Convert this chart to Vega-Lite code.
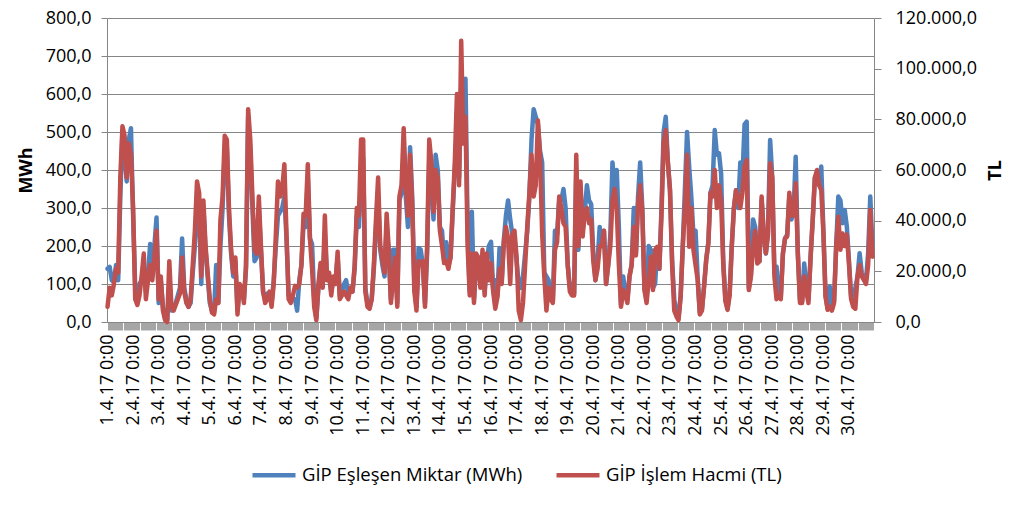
{
"$schema": "https://vega.github.io/schema/vega-lite/v6.json",
"width": 767, "height": 304,
"autosize": {"type": "none"},
"padding": {"left": 107, "top": 18, "right": 145, "bottom": 183},
"background": "white",
"config": {
 "locale": {"number": {"decimal": ",", "thousands": ".", "grouping": [3], "currency": ["", ""]}},
 "view": {"stroke": null},
 "font": "Open Sans",
 "axis": {"labelFont": "Open Sans", "labelColor": "#000", "titleFont": "Open Sans", "titleColor": "#000", "domainColor": "#868686", "tickColor": "#868686", "gridColor": "#868686"}
},
"data": {"values": [
{"h":0,"m":140,"t":6000},{"h":2,"m":145,"t":13500},{"h":4,"m":110,"t":10500},{"h":6,"m":105,"t":15000},{"h":8,"m":150,"t":21000},{"h":10,"m":110,"t":19500},{"h":12,"m":330,"t":57000},{"h":14,"m":500,"t":77250},{"h":16,"m":440,"t":73500},{"h":18,"m":370,"t":57000},{"h":20,"m":480,"t":70500},{"h":22,"m":510,"t":66000},
{"h":24,"m":280,"t":45000},{"h":26,"m":90,"t":9000},{"h":28,"m":60,"t":6750},{"h":30,"m":100,"t":10500},{"h":32,"m":110,"t":18000},{"h":34,"m":150,"t":27000},{"h":36,"m":80,"t":9000},{"h":38,"m":120,"t":16500},{"h":40,"m":205,"t":22500},{"h":42,"m":120,"t":16500},{"h":44,"m":200,"t":25500},{"h":46,"m":275,"t":36000},
{"h":48,"m":50,"t":9000},{"h":50,"m":110,"t":18000},{"h":52,"m":40,"t":4500},{"h":54,"m":10,"t":750},{"h":56,"m":5,"t":0},{"h":58,"m":100,"t":24000},{"h":60,"m":30,"t":6000},{"h":62,"m":40,"t":4500},{"h":64,"m":50,"t":6750},{"h":66,"m":70,"t":9000},{"h":68,"m":90,"t":11250},{"h":70,"m":220,"t":25500},
{"h":72,"m":90,"t":12000},{"h":74,"m":60,"t":7500},{"h":76,"m":40,"t":6000},{"h":78,"m":50,"t":9000},{"h":80,"m":130,"t":22500},{"h":82,"m":200,"t":36000},{"h":84,"m":300,"t":55500},{"h":86,"m":310,"t":51000},{"h":88,"m":100,"t":18000},{"h":90,"m":300,"t":48000},{"h":92,"m":190,"t":30000},{"h":94,"m":120,"t":19500},
{"h":96,"m":50,"t":9000},{"h":98,"m":30,"t":3750},{"h":100,"m":25,"t":3000},{"h":102,"m":150,"t":9000},{"h":104,"m":50,"t":7500},{"h":106,"m":200,"t":40500},{"h":108,"m":300,"t":49500},{"h":110,"m":450,"t":73500},{"h":112,"m":460,"t":72000},{"h":114,"m":280,"t":45000},{"h":116,"m":180,"t":28500},{"h":118,"m":120,"t":19500},
{"h":120,"m":160,"t":25500},{"h":122,"m":30,"t":3000},{"h":124,"m":90,"t":15000},{"h":126,"m":90,"t":13500},{"h":128,"m":60,"t":7500},{"h":130,"m":140,"t":22500},{"h":132,"m":540,"t":84000},{"h":134,"m":450,"t":72000},{"h":136,"m":300,"t":49500},{"h":138,"m":160,"t":28500},{"h":140,"m":170,"t":27000},{"h":142,"m":300,"t":49500},
{"h":144,"m":190,"t":30000},{"h":146,"m":80,"t":12000},{"h":148,"m":60,"t":7500},{"h":150,"m":75,"t":9000},{"h":152,"m":70,"t":12000},{"h":154,"m":50,"t":6000},{"h":156,"m":110,"t":15000},{"h":158,"m":200,"t":34500},{"h":160,"m":280,"t":55500},{"h":162,"m":290,"t":49500},{"h":164,"m":300,"t":52500},{"h":166,"m":330,"t":62250},
{"h":168,"m":220,"t":34500},{"h":170,"m":70,"t":9000},{"h":172,"m":60,"t":7500},{"h":174,"m":60,"t":10500},{"h":176,"m":60,"t":14250},{"h":178,"m":30,"t":13500},{"h":180,"m":110,"t":15000},{"h":182,"m":150,"t":22500},{"h":184,"m":260,"t":42750},{"h":186,"m":250,"t":42000},{"h":188,"m":380,"t":62250},{"h":190,"m":220,"t":33000},
{"h":192,"m":205,"t":21000},{"h":194,"m":60,"t":6000},{"h":196,"m":10,"t":750},{"h":198,"m":90,"t":15000},{"h":200,"m":150,"t":23250},{"h":202,"m":100,"t":13500},{"h":204,"m":230,"t":42000},{"h":206,"m":120,"t":16500},{"h":208,"m":120,"t":19500},{"h":210,"m":80,"t":10500},{"h":212,"m":110,"t":18000},{"h":214,"m":110,"t":15000},
{"h":216,"m":170,"t":27750},{"h":218,"m":70,"t":9000},{"h":220,"m":80,"t":10500},{"h":222,"m":100,"t":12000},{"h":224,"m":110,"t":10500},{"h":226,"m":70,"t":9000},{"h":228,"m":90,"t":13500},{"h":230,"m":80,"t":12000},{"h":232,"m":140,"t":22500},{"h":234,"m":280,"t":45000},{"h":236,"m":250,"t":42000},{"h":238,"m":400,"t":72000},
{"h":240,"m":430,"t":72000},{"h":242,"m":90,"t":12000},{"h":244,"m":50,"t":6000},{"h":246,"m":40,"t":5250},{"h":248,"m":60,"t":9000},{"h":250,"m":140,"t":22500},{"h":252,"m":250,"t":40500},{"h":254,"m":320,"t":57000},{"h":256,"m":190,"t":30000},{"h":258,"m":150,"t":24750},{"h":260,"m":120,"t":19500},{"h":262,"m":250,"t":42750},
{"h":264,"m":180,"t":28500},{"h":266,"m":60,"t":7500},{"h":268,"m":190,"t":16500},{"h":270,"m":190,"t":25500},{"h":272,"m":50,"t":6000},{"h":274,"m":320,"t":49500},{"h":276,"m":340,"t":54000},{"h":278,"m":440,"t":76500},{"h":280,"m":330,"t":54000},{"h":282,"m":250,"t":42000},{"h":284,"m":460,"t":66000},{"h":286,"m":330,"t":46500},
{"h":288,"m":100,"t":12000},{"h":290,"m":40,"t":4500},{"h":292,"m":195,"t":24000},{"h":294,"m":190,"t":22500},{"h":296,"m":150,"t":24000},{"h":298,"m":50,"t":6000},{"h":300,"m":180,"t":30000},{"h":302,"m":420,"t":72000},{"h":304,"m":380,"t":63000},{"h":306,"m":270,"t":43500},{"h":308,"m":440,"t":60000},{"h":310,"m":400,"t":57000},
{"h":312,"m":250,"t":36000},{"h":314,"m":240,"t":30000},{"h":316,"m":160,"t":23250},{"h":318,"m":210,"t":24000},{"h":320,"m":150,"t":21000},{"h":322,"m":170,"t":25500},{"h":324,"m":290,"t":45000},{"h":326,"m":400,"t":63000},{"h":328,"m":500,"t":90000},{"h":330,"m":380,"t":54000},{"h":332,"m":620,"t":111000},{"h":334,"m":500,"t":70500},
{"h":336,"m":640,"t":81000},{"h":338,"m":250,"t":30000},{"h":340,"m":80,"t":10500},{"h":342,"m":290,"t":27000},{"h":344,"m":60,"t":7500},{"h":346,"m":150,"t":27000},{"h":348,"m":150,"t":25500},{"h":350,"m":100,"t":13500},{"h":352,"m":170,"t":28500},{"h":354,"m":80,"t":10500},{"h":356,"m":160,"t":27000},{"h":358,"m":200,"t":16500},
{"h":360,"m":211,"t":23250},{"h":362,"m":85,"t":12000},{"h":364,"m":110,"t":5250},{"h":366,"m":70,"t":9750},{"h":368,"m":195,"t":21000},{"h":370,"m":105,"t":15000},{"h":372,"m":215,"t":31500},{"h":374,"m":280,"t":37500},{"h":376,"m":320,"t":33000},{"h":378,"m":270,"t":15000},{"h":380,"m":230,"t":34500},{"h":382,"m":220,"t":36000},
{"h":384,"m":160,"t":25500},{"h":386,"m":100,"t":4500},{"h":388,"m":90,"t":750},{"h":390,"m":120,"t":7500},{"h":392,"m":180,"t":22500},{"h":394,"m":240,"t":37500},{"h":396,"m":330,"t":51000},{"h":398,"m":480,"t":66000},{"h":400,"m":560,"t":49500},{"h":402,"m":540,"t":54000},{"h":404,"m":520,"t":79500},{"h":406,"m":450,"t":65250},
{"h":408,"m":420,"t":34950},{"h":410,"m":130,"t":18000},{"h":412,"m":120,"t":4500},{"h":414,"m":110,"t":13500},{"h":416,"m":60,"t":9000},{"h":418,"m":55,"t":7500},{"h":420,"m":240,"t":28500},{"h":422,"m":230,"t":31500},{"h":424,"m":320,"t":49500},{"h":426,"m":320,"t":45000},{"h":428,"m":350,"t":39000},{"h":430,"m":300,"t":37500},
{"h":432,"m":150,"t":22500},{"h":434,"m":90,"t":12000},{"h":436,"m":100,"t":10500},{"h":438,"m":75,"t":10500},{"h":440,"m":400,"t":66000},{"h":442,"m":190,"t":30000},{"h":444,"m":350,"t":55500},{"h":446,"m":240,"t":33750},{"h":448,"m":290,"t":43500},{"h":450,"m":360,"t":45000},{"h":452,"m":320,"t":39000},{"h":454,"m":310,"t":40500},
{"h":456,"m":180,"t":24000},{"h":458,"m":110,"t":16500},{"h":460,"m":160,"t":21000},{"h":462,"m":250,"t":30000},{"h":464,"m":200,"t":30000},{"h":466,"m":240,"t":36000},{"h":468,"m":100,"t":15000},{"h":470,"m":150,"t":22500},{"h":472,"m":230,"t":30000},{"h":474,"m":420,"t":48000},{"h":476,"m":350,"t":52500},{"h":478,"m":400,"t":45000},
{"h":480,"m":250,"t":22500},{"h":482,"m":45,"t":6000},{"h":484,"m":120,"t":12750},{"h":486,"m":80,"t":10500},{"h":488,"m":60,"t":7500},{"h":490,"m":120,"t":18000},{"h":492,"m":150,"t":22500},{"h":494,"m":300,"t":37500},{"h":496,"m":180,"t":26250},{"h":498,"m":330,"t":46500},{"h":500,"m":420,"t":54000},{"h":502,"m":300,"t":43500},
{"h":504,"m":90,"t":12600},{"h":506,"m":60,"t":7500},{"h":508,"m":200,"t":16500},{"h":510,"m":190,"t":25800},{"h":512,"m":90,"t":12600},{"h":514,"m":100,"t":28500},{"h":516,"m":190,"t":29700},{"h":518,"m":140,"t":21000},{"h":520,"m":300,"t":42000},{"h":522,"m":500,"t":70500},{"h":524,"m":540,"t":75750},{"h":526,"m":420,"t":63000},
{"h":528,"m":347,"t":52050},{"h":530,"m":160,"t":22500},{"h":532,"m":60,"t":4500},{"h":534,"m":20,"t":2250},{"h":536,"m":10,"t":750},{"h":538,"m":70,"t":10050},{"h":540,"m":200,"t":30000},{"h":542,"m":350,"t":45000},{"h":544,"m":500,"t":66000},{"h":546,"m":409,"t":29700},{"h":548,"m":330,"t":45000},{"h":550,"m":230,"t":28500},
{"h":552,"m":240,"t":22500},{"h":554,"m":115,"t":16500},{"h":556,"m":25,"t":3000},{"h":558,"m":35,"t":4500},{"h":560,"m":95,"t":13950},{"h":562,"m":165,"t":24450},{"h":564,"m":210,"t":31050},{"h":566,"m":340,"t":51000},{"h":568,"m":360,"t":49500},{"h":570,"m":505,"t":60000},{"h":572,"m":440,"t":45000},{"h":574,"m":444,"t":54000},
{"h":576,"m":390,"t":48000},{"h":578,"m":160,"t":22500},{"h":580,"m":60,"t":8250},{"h":582,"m":35,"t":4800},{"h":584,"m":80,"t":10500},{"h":586,"m":200,"t":30000},{"h":588,"m":300,"t":45000},{"h":590,"m":347,"t":52050},{"h":592,"m":300,"t":49500},{"h":594,"m":420,"t":45000},{"h":596,"m":380,"t":51000},{"h":598,"m":520,"t":61500},
{"h":600,"m":527,"t":63900},{"h":602,"m":90,"t":12600},{"h":604,"m":125,"t":18000},{"h":606,"m":270,"t":30000},{"h":608,"m":250,"t":36000},{"h":610,"m":160,"t":23100},{"h":612,"m":160,"t":24000},{"h":614,"m":320,"t":49500},{"h":616,"m":230,"t":34950},{"h":618,"m":180,"t":27150},{"h":620,"m":240,"t":34500},{"h":622,"m":479,"t":62700},
{"h":624,"m":380,"t":57000},{"h":626,"m":130,"t":18000},{"h":628,"m":146,"t":9000},{"h":630,"m":70,"t":10050},{"h":632,"m":65,"t":9000},{"h":634,"m":180,"t":27000},{"h":636,"m":220,"t":33000},{"h":638,"m":230,"t":33750},{"h":640,"m":330,"t":51000},{"h":642,"m":270,"t":42000},{"h":644,"m":290,"t":42000},{"h":646,"m":435,"t":54750},
{"h":648,"m":180,"t":27000},{"h":650,"m":60,"t":7500},{"h":652,"m":55,"t":7500},{"h":654,"m":154,"t":18000},{"h":656,"m":90,"t":12000},{"h":658,"m":60,"t":7500},{"h":660,"m":172,"t":25800},{"h":662,"m":270,"t":40500},{"h":664,"m":380,"t":57000},{"h":666,"m":390,"t":60000},{"h":668,"m":360,"t":54000},{"h":670,"m":409,"t":52050},
{"h":672,"m":240,"t":34950},{"h":674,"m":70,"t":10050},{"h":676,"m":35,"t":4800},{"h":678,"m":93,"t":6000},{"h":680,"m":35,"t":4500},{"h":682,"m":55,"t":7500},{"h":684,"m":200,"t":30000},{"h":686,"m":330,"t":41550},{"h":688,"m":320,"t":28500},{"h":690,"m":260,"t":34950},{"h":692,"m":295,"t":30000},{"h":694,"m":251,"t":34500},
{"h":696,"m":160,"t":23100},{"h":698,"m":67,"t":9000},{"h":700,"m":60,"t":6000},{"h":702,"m":90,"t":5250},{"h":704,"m":120,"t":18000},{"h":706,"m":181,"t":22500},{"h":708,"m":130,"t":18000},{"h":710,"m":111,"t":16650},{"h":712,"m":110,"t":15000},{"h":714,"m":181,"t":22500},{"h":716,"m":330,"t":44250},{"h":718,"m":200,"t":25800}
]},
"encoding": {
 "x": {"field": "h", "type": "quantitative",
  "scale": {"domain": [-0.5, 719.5], "nice": false, "zero": false},
  "axis": {"title": null, "tickCount": 720, "grid": false,
   "labelExpr": "datum.value % 24 == 0 ? (datum.value / 24 + 1) + '.4.17 0:00' : ''",
   "labelAngle": -90, "labelFontSize": 18, "labelPadding": 4, "labelOverlap": false, "labelFlush": false, "labelBound": false,
   "tickSize": 8, "tickColor": "#a6a6a6", "domainColor": "#868686"}}
},
"layer": [
 {"mark": {"type": "line", "strokeWidth": 4.5, "strokeJoin": "round", "strokeCap": "round"},
  "encoding": {
   "y": {"field": "m", "type": "quantitative", "scale": {"domain": [0, 800], "nice": false},
    "axis": {"title": "MWh", "titleFontWeight": "bold", "titleFontSize": 18, "titlePadding": 10,
     "values": [0,100,200,300,400,500,600,700,800], "format": ",.1f", "labelFontSize": 18, "labelPadding": 10, "tickSize": 6, "grid": true}},
   "color": {"datum": "GİP Eşleşen Miktar (MWh)", "type": "nominal",
    "scale": {"domain": ["GİP Eşleşen Miktar (MWh)", "GİP İşlem Hacmi (TL)"], "range": ["#4F81BD", "#C0504D"]},
    "legend": {"orient": "none", "legendX": 143, "legendY": 433, "direction": "horizontal", "title": null,
     "symbolType": "stroke", "symbolSize": 1849, "symbolStrokeWidth": 4.5, "labelFontSize": 18.5, "labelFont": "Open Sans", "labelColor": "#000",
     "labelOffset": 4, "labelLimit": 500, "columnPadding": 24, "padding": 0}}
  }},
 {"mark": {"type": "line", "strokeWidth": 4.5, "strokeJoin": "round", "strokeCap": "round"},
  "encoding": {
   "y": {"field": "t", "type": "quantitative", "scale": {"domain": [0, 120000], "nice": false},
    "axis": {"orient": "right", "title": "TL", "titleAngle": -90, "titleFontWeight": "bold", "titleFontSize": 18, "titlePadding": 28,
     "values": [0,20000,40000,60000,80000,100000,120000], "format": ",.1f", "labelFontSize": 18, "labelPadding": 14, "tickSize": 7, "grid": false}},
   "color": {"datum": "GİP İşlem Hacmi (TL)", "type": "nominal"}
  }}
],
"resolve": {"scale": {"y": "independent"}}
}
